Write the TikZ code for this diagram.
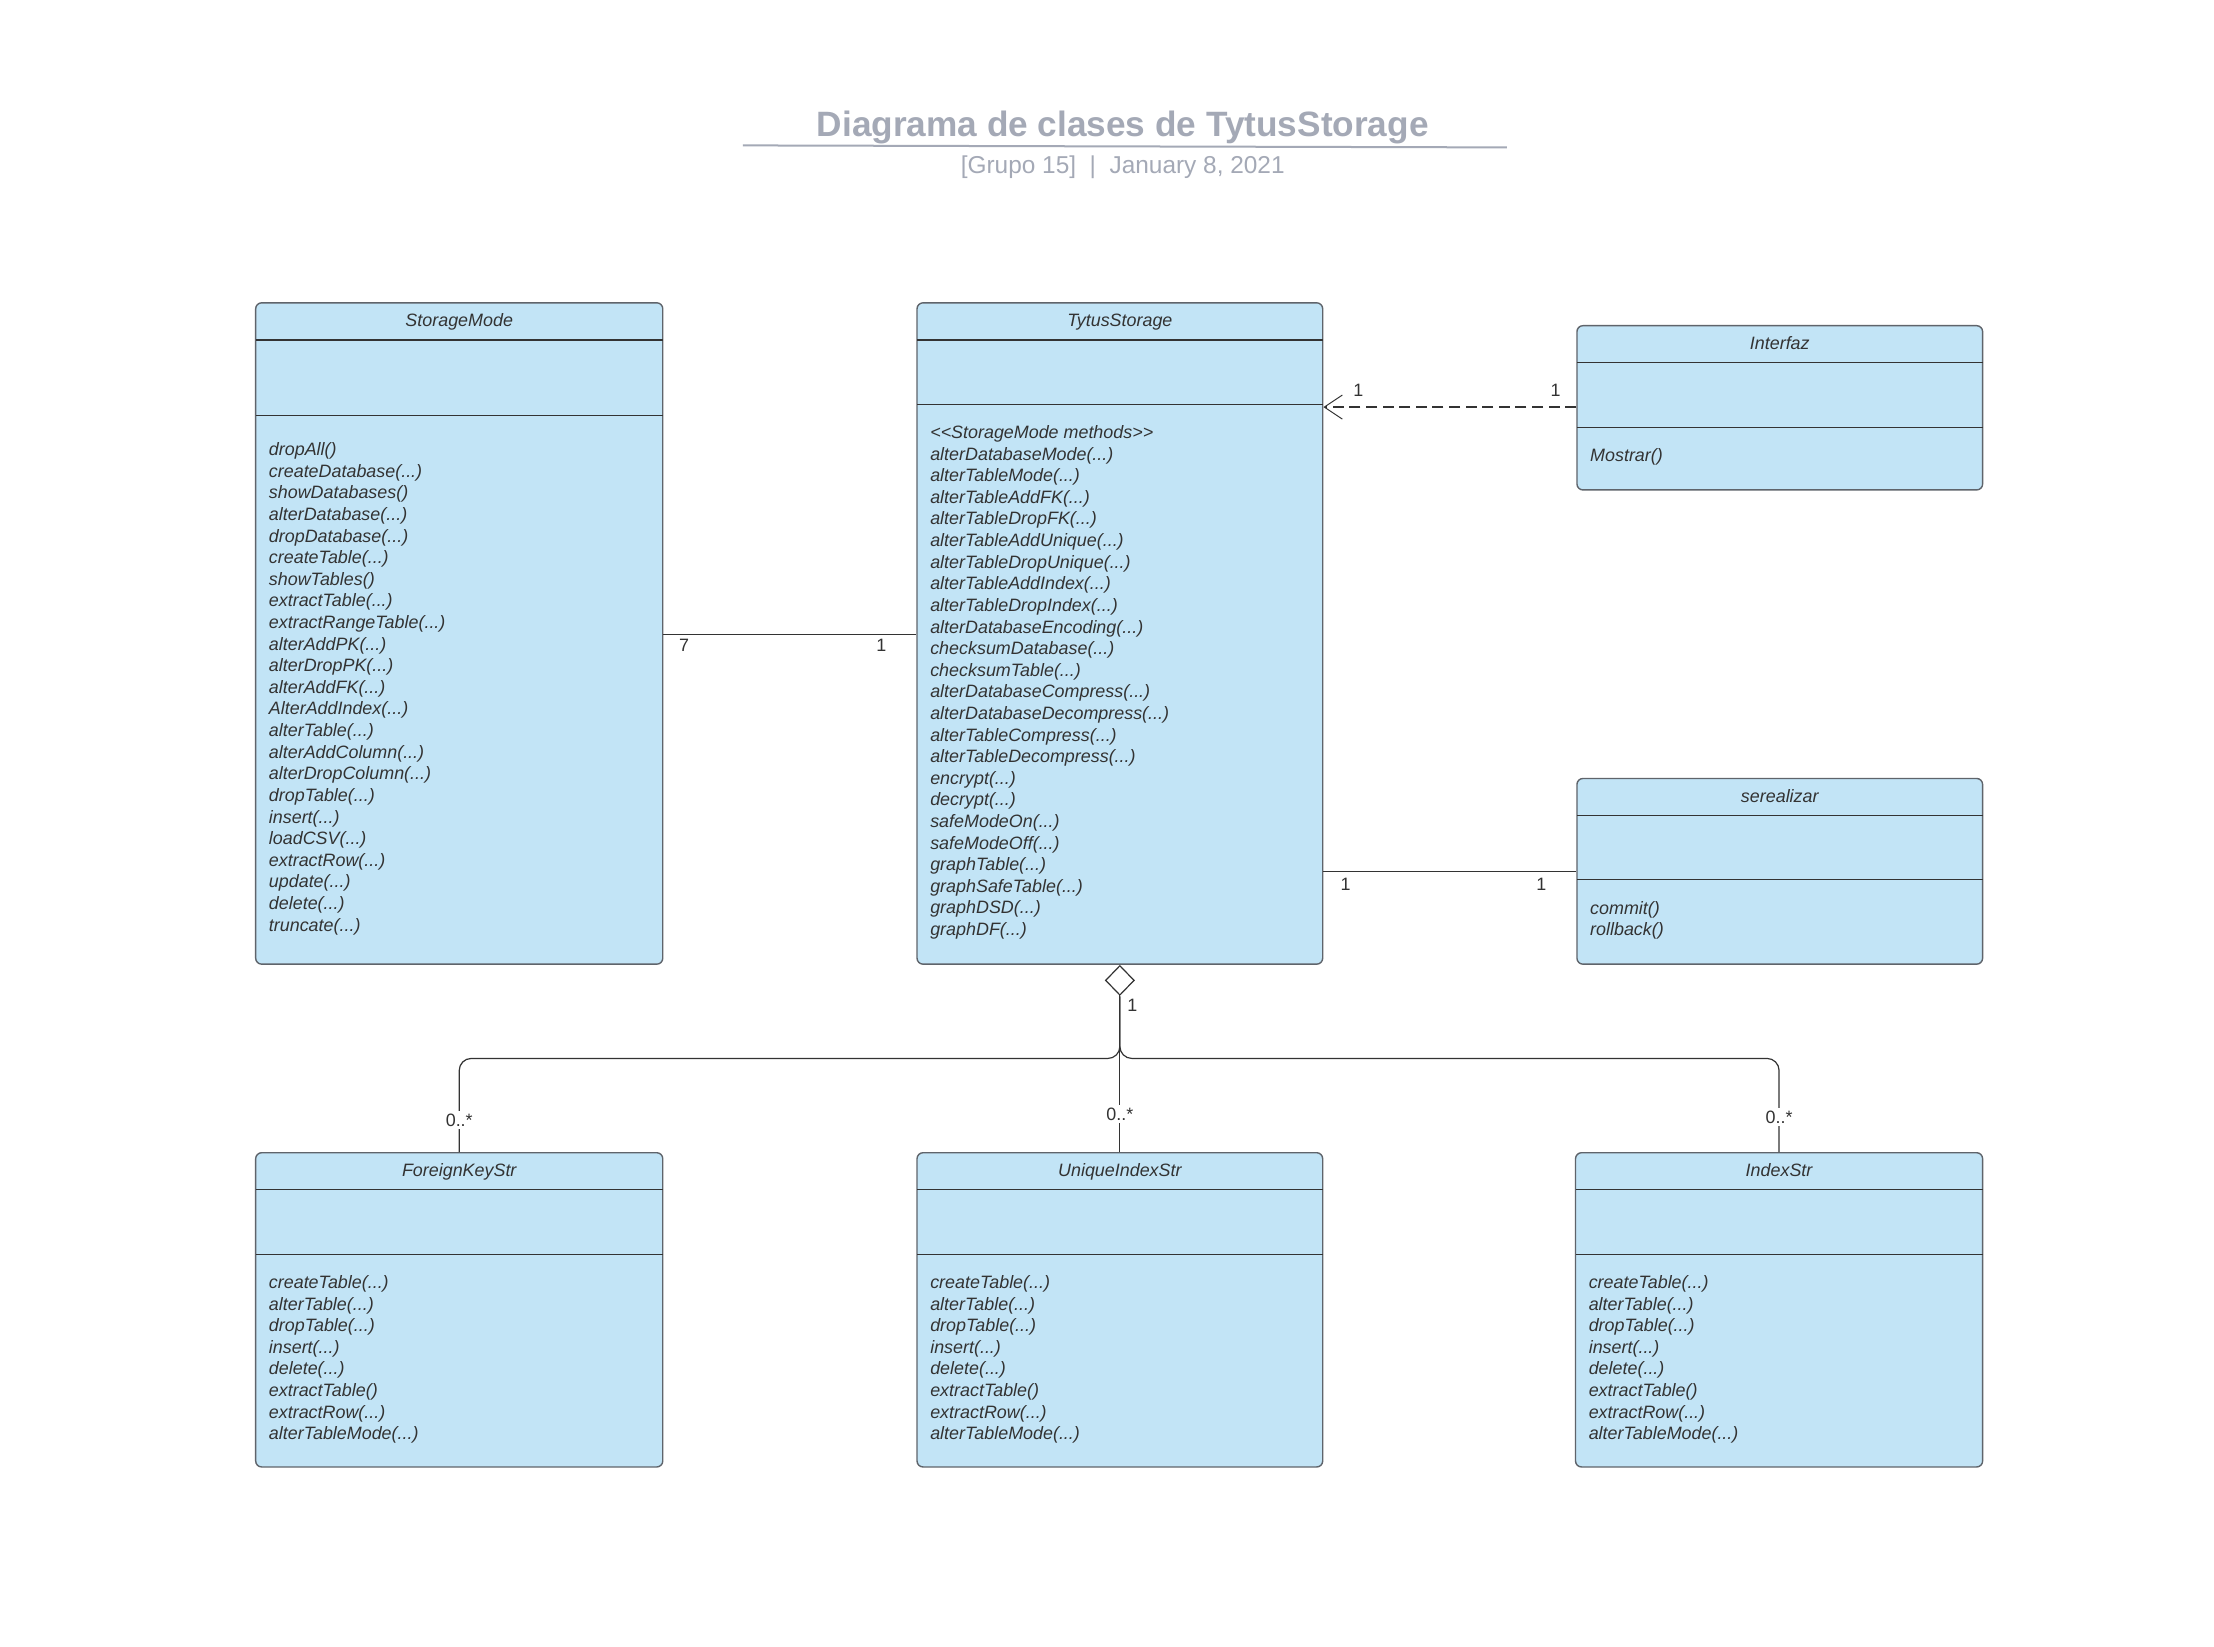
\documentclass[tikz,border=0pt]{standalone}
\usepackage{fontspec}
\setmainfont{Liberation Sans}
\usetikzlibrary{arrows.meta,fit}
\definecolor{boxfill}{HTML}{C2E4F6}
\definecolor{boxline}{HTML}{5F646B}
\definecolor{txt}{HTML}{333333}
\definecolor{ttl}{HTML}{A4A9B6}
\tikzset{
  classbox/.style={draw=boxline, fill=boxfill, line width=0.7pt, rounded corners=3pt, inner sep=0pt},
  divider/.style={draw=txt, line width=0.55pt},
  meth/.style={font=\itshape\fontsize{8.95}{10.8}\selectfont, text=txt, inner sep=0pt, anchor=base west},
  hdr/.style={font=\itshape\fontsize{8.95}{10.8}\selectfont, text=txt, inner sep=0pt, anchor=base},
  mult/.style={font=\fontsize{8.95}{10.8}\selectfont, text=txt, inner sep=0pt},
  multw/.style={mult, fill=white, inner sep=1.2pt},
  conn/.style={draw=txt, line width=0.6pt},
}
\newcommand\ellip{...}
\newcommand\lt{\symbol{60}}
\newcommand\gt{\symbol{62}}
\newcommand\methodlist[4]{\foreach \m [count=\i] in {#4} {\node[meth] (#1-\i) at (#2,{#3+(\i-1)*15.13}) {\m};}}
\begin{document}
\begin{tikzpicture}[x=0.714pt,y=-0.714pt]
\useasboundingbox (0,0) rectangle (1550,1153);
\fill[white] (0,0) rectangle (1550,1153);

% title
\node[font=\bfseries\fontsize{17.6}{20}\selectfont, text=ttl, inner sep=0pt, anchor=base] (title) at (786,95.5) {Diagrama de clases de TytusStorage};
\draw[ttl, line width=1pt] (520,101.8) -- (1055,103.2);
\node[font=\fontsize{12.2}{14}\selectfont, text=ttl, inner sep=0pt, anchor=base] (subtitle) at (786,121.5) {[Grupo 15]\ \ |\ \ January 8, 2021};

% StorageMode
\node[classbox, fit={(179,212)(464,675)}] (storage) {};
\draw[divider] (179,238) -- (464,238);
\draw[divider] (179,291) -- (464,291);
\node[hdr] (storage-t) at (321.5,228.5) {StorageMode};
\methodlist{sm}{188}{319}{dropAll(),createDatabase(\ellip),showDatabases(),alterDatabase(\ellip),dropDatabase(\ellip),createTable(\ellip),showTables(),extractTable(\ellip),extractRangeTable(\ellip),alterAddPK(\ellip),alterDropPK(\ellip),alterAddFK(\ellip),AlterAddIndex(\ellip),alterTable(\ellip),alterAddColumn(\ellip),alterDropColumn(\ellip),dropTable(\ellip),insert(\ellip),loadCSV(\ellip),extractRow(\ellip),update(\ellip),delete(\ellip),truncate(\ellip)}

% TytusStorage
\node[classbox, fit={(642,212)(926,675)}] (tytus) {};
\draw[divider] (642,238) -- (926,238);
\draw[divider] (642,283) -- (926,283);
\node[hdr] (tytus-t) at (784,228.5) {TytusStorage};
\methodlist{ts}{651}{307}{\lt\lt StorageMode methods\gt\gt,alterDatabaseMode(\ellip),alterTableMode(\ellip),alterTableAddFK(\ellip),alterTableDropFK(\ellip),alterTableAddUnique(\ellip),alterTableDropUnique(\ellip),alterTableAddIndex(\ellip),alterTableDropIndex(\ellip),alterDatabaseEncoding(\ellip),checksumDatabase(\ellip),checksumTable(\ellip),alterDatabaseCompress(\ellip),alterDatabaseDecompress(\ellip),alterTableCompress(\ellip),alterTableDecompress(\ellip),encrypt(\ellip),decrypt(\ellip),safeModeOn(\ellip),safeModeOff(\ellip),graphTable(\ellip),graphSafeTable(\ellip),graphDSD(\ellip),graphDF(\ellip)}

% Interfaz
\node[classbox, fit={(1104,228)(1388,343)}] (interfaz) {};
\draw[divider] (1104,254) -- (1388,254);
\draw[divider] (1104,299) -- (1388,299);
\node[hdr] (interfaz-t) at (1246,244.5) {Interfaz};
\methodlist{if}{1113}{323}{Mostrar()}

% serealizar
\node[classbox, fit={(1104,545)(1388,675)}] (ser) {};
\draw[divider] (1104,571) -- (1388,571);
\draw[divider] (1104,616) -- (1388,616);
\node[hdr] (ser-t) at (1246,561.5) {serealizar};
\methodlist{se}{1113}{640}{commit(),rollback()}

% ForeignKeyStr
\node[classbox, fit={(179,807)(464,1027)}] (fk) {};
\draw[divider] (179,833) -- (464,833);
\draw[divider] (179,878) -- (464,878);
\node[hdr] (fk-t) at (321.5,823.5) {ForeignKeyStr};
\methodlist{fkm}{188}{902}{createTable(\ellip),alterTable(\ellip),dropTable(\ellip),insert(\ellip),delete(\ellip),extractTable(),extractRow(\ellip),alterTableMode(\ellip)}

% UniqueIndexStr
\node[classbox, fit={(642,807)(926,1027)}] (uniq) {};
\draw[divider] (642,833) -- (926,833);
\draw[divider] (642,878) -- (926,878);
\node[hdr] (uniq-t) at (784,823.5) {UniqueIndexStr};
\methodlist{uqm}{651}{902}{createTable(\ellip),alterTable(\ellip),dropTable(\ellip),insert(\ellip),delete(\ellip),extractTable(),extractRow(\ellip),alterTableMode(\ellip)}

% IndexStr
\node[classbox, fit={(1103,807)(1388,1027)}] (idx) {};
\draw[divider] (1103,833) -- (1388,833);
\draw[divider] (1103,878) -- (1388,878);
\node[hdr] (idx-t) at (1245.5,823.5) {IndexStr};
\methodlist{ixm}{1112}{902}{createTable(\ellip),alterTable(\ellip),dropTable(\ellip),insert(\ellip),delete(\ellip),extractTable(),extractRow(\ellip),alterTableMode(\ellip)}

% StorageMode -- TytusStorage
\draw[conn] (storage.east |- 0,444) -- (tytus.west |- 0,444);
\node[mult] (m7) at (479,452) {7};
\node[mult] (m1a) at (617,452) {1};

% Interfaz --> TytusStorage (dashed, open arrow)
\draw[conn, dash pattern=on 5.5pt off 2.8pt, -{Straight Barb[length=9pt,width=12pt,line width=0.5pt]}] (interfaz.west |- 0,285) -- (tytus.east |- 0,285);
\node[mult] (m1b) at (951,273) {1};
\node[mult] (m1c) at (1089,273) {1};

% TytusStorage -- serealizar
\draw[conn] (tytus.east |- 0,610) -- (ser.west |- 0,610);
\node[mult] (m1d) at (942,619) {1};
\node[mult] (m1e) at (1079,619) {1};

% aggregation
\draw[conn, rounded corners=6] (tytus.south) ++(0,22) -- (tytus.south |- 0,741) -- (fk.north |- 0,741) -- (fk.north);
\draw[conn, rounded corners=6] (tytus.south) ++(0,22) -- (tytus.south |- 0,741) -- (idx.north |- 0,741) -- (idx.north);
\draw[conn, {Diamond[open,fill=white,length=15.5pt,width=15pt,line width=0.6pt]}-] (tytus.south) -- (uniq.north);
\node[mult, anchor=west] (m1f) at (789,704) {1};
\node[multw] (mfk) at (321.5,784) {0..*};
\node[multw] (muq) at (784,780) {0..*};
\node[multw] (mix) at (1245.5,782) {0..*};
\end{tikzpicture}
\end{document}
